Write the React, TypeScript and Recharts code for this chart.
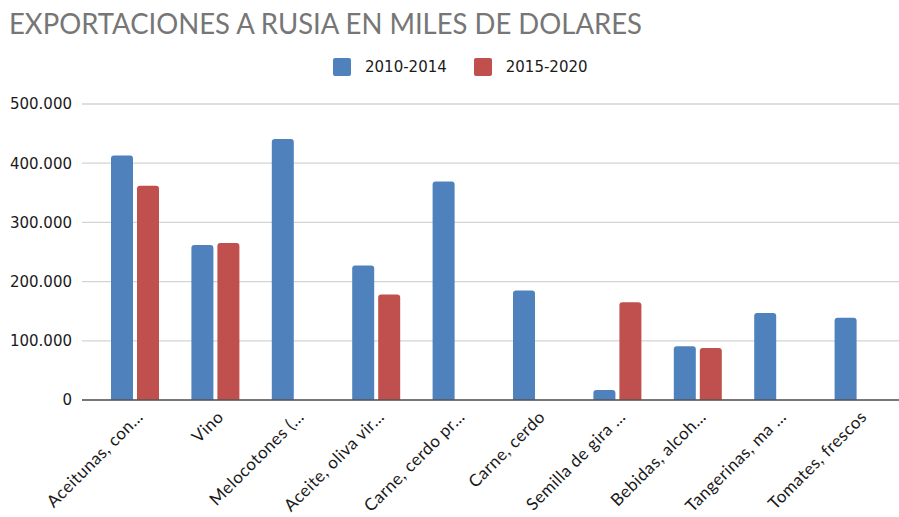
import { BarChart, Bar, CartesianGrid, XAxis, YAxis } from 'recharts'

const categories = [
  'Aceitunas, con…',
  'Vino',
  'Melocotones (…',
  'Aceite, oliva vir…',
  'Carne, cerdo pr…',
  'Carne, cerdo',
  'Semilla de gira …',
  'Bebidas, alcoh…',
  'Tangerinas, ma …',
  'Tomates, frescos',
]
const serie2010 = [413000, 262000, 441000, 227000, 369000, 185000, 17000, 91000, 147000, 139000]
const serie2015 = [362000, 265000, null, 178000, null, null, 165000, 88000, null, null]
const yTicks = [0, 100000, 200000, 300000, 400000, 500000]

const BLUE = '#4f81bd'
const RED = '#c0504d'

const data = categories.map((name, i) => ({ name, a: serie2010[i], b: serie2015[i] }))

const fmt = (v: number) => String(v).replace(/\B(?=(\d{3})+(?!\d))/g, '.')

function CatTick({ x, payload }: any) {
  return (
    <g transform={`translate(${x + 9},${418})`}>
      <text x={0} y={0} textAnchor="end" transform="rotate(-45)" fontFamily="Lato" fontSize={17} letterSpacing={0.45} fill="#1a1a1a">
        {payload.value}
      </text>
    </g>
  )
}

function LegendKey({ color, label }: { color: string; label: string }) {
  return (
    <span style={{ display: 'flex', alignItems: 'center' }}>
      <span style={{ width: 18, height: 18, borderRadius: 2, backgroundColor: color, marginRight: 14 }} />
      <span style={{ fontFamily: 'DejaVu Sans', fontSize: 15, color: '#1a1a1a', whiteSpace: 'nowrap' }}>{label}</span>
    </span>
  )
}

export default function App() {
  return (
    <div style={{ position: 'absolute', left: 0, top: 0, width: 899, height: 517, background: '#fff' }}>
      <svg width={899} height={50} style={{ position: 'absolute', left: 0, top: 0 }}>
        <text x={9} y={33.5} fontFamily="Lato" fontWeight={400} fontSize={29} fill="#767676" textLength={633} lengthAdjust="spacingAndGlyphs">
          EXPORTACIONES A RUSIA EN MILES DE DOLARES
        </text>
      </svg>
      <div style={{ position: 'absolute', left: 333, top: 58, display: 'flex', gap: 27 }}>
        <LegendKey color={BLUE} label="2010-2014" />
        <LegendKey color={RED} label="2015-2020" />
      </div>
      <BarChart width={899} height={517} data={data} barSize={22} barGap={4} margin={{ top: 104, right: 0, bottom: 0, left: 0 }}>
        <CartesianGrid vertical={false} stroke="#d4d4d4" strokeWidth={1.3} />
        <XAxis
          dataKey="name"
          interval={0}
          height={117}
          padding={{ left: 13, right: 0 }}
          tickLine={false}
          axisLine={{ stroke: '#555', strokeWidth: 1.5 }}
          tick={<CatTick />}
        />
        <YAxis
          width={82}
          domain={[0, 500000]}
          ticks={yTicks}
          tickFormatter={fmt}
          tickLine={false}
          axisLine={false}
          tickMargin={4}
          tick={{ fontFamily: 'DejaVu Sans', fontSize: 15, fill: '#1a1a1a' }}
        />
        <Bar dataKey="a" name="2010-2014" fill={BLUE} radius={[3, 3, 0, 0]} isAnimationActive={false} />
        <Bar dataKey="b" name="2015-2020" fill={RED} radius={[3, 3, 0, 0]} isAnimationActive={false} />
      </BarChart>
    </div>
  )
}
